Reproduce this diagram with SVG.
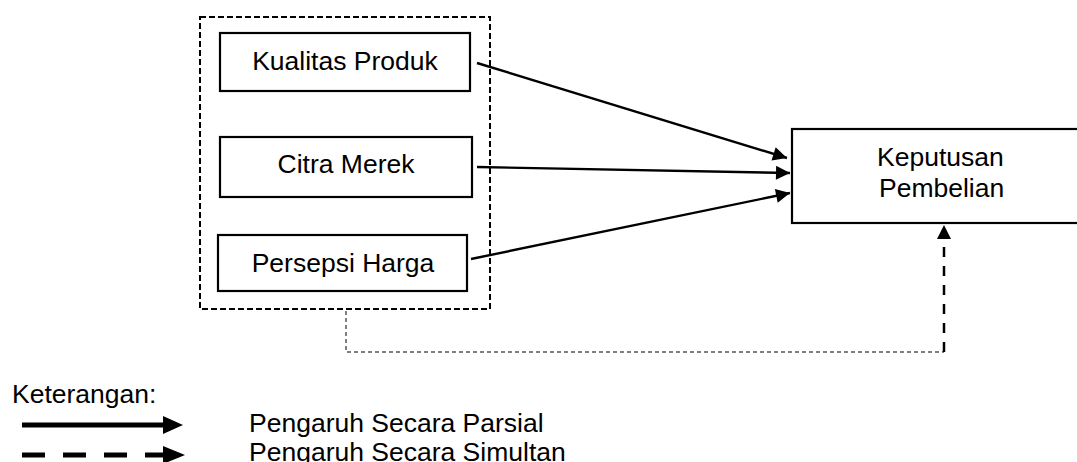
<svg xmlns="http://www.w3.org/2000/svg" width="1077" height="462" viewBox="0 0 1077 462">
  <style>
    .box { fill: #fff; stroke: #000; stroke-width: 2.2; }
    .lbl { font-family: "Liberation Sans", Arial, sans-serif; font-size: 26.5px; fill: #000; }
    .mid { text-anchor: middle; }
    .solid { stroke: #000; stroke-width: 2.4; fill: none; }
  </style>
  <defs>
    <marker id="ah" viewBox="0 0 10 10" refX="10" refY="5" markerWidth="17" markerHeight="14" markerUnits="userSpaceOnUse" orient="auto">
      <path d="M0,0 L10,5 L0,10 Z" fill="#000"/>
    </marker>
  </defs>
  <rect width="1077" height="462" fill="#fff"/>

  <g id="group-independent">
    <rect x="200" y="17" width="290" height="292" fill="none" stroke="#000" stroke-width="2" stroke-dasharray="6,3"/>
  </g>
  <g id="node-kualitas">
    <rect class="box" x="220" y="33" width="250" height="58"/>
    <text class="lbl mid" x="345" y="70">Kualitas Produk</text>
  </g>
  <g id="node-citra">
    <rect class="box" x="220" y="137" width="252" height="60"/>
    <text class="lbl mid" x="346" y="173">Citra Merek</text>
  </g>
  <g id="node-harga">
    <rect class="box" x="218" y="235" width="249" height="56"/>
    <text class="lbl mid" x="343" y="272">Persepsi Harga</text>
  </g>
  <g id="node-keputusan">
    <rect class="box" x="792" y="129" width="296" height="94"/>
    <text class="lbl" x="877" y="166">Keputusan</text>
    <text class="lbl" x="879" y="197">Pembelian</text>
  </g>

  <g id="connectors">
    <line class="solid" x1="477" y1="63" x2="787" y2="158" marker-end="url(#ah)"/>
    <line class="solid" x1="477" y1="167" x2="790" y2="173" marker-end="url(#ah)"/>
    <line class="solid" x1="471" y1="259" x2="790" y2="193" marker-end="url(#ah)"/>
    <polyline points="346,311 346,352 944,352" fill="none" stroke="#000" stroke-width="1" stroke-dasharray="4,3"/>
    <line x1="944" y1="352" x2="944" y2="238" stroke="#000" stroke-width="2.5" stroke-dasharray="10,9"/>
    <path d="M944,225 L951,239 L937,239 Z" fill="#000"/>
  </g>

  <g id="legend">
    <text class="lbl" x="12" y="403">Keterangan:</text>
    <line x1="22" y1="425" x2="165" y2="425" stroke="#000" stroke-width="5"/>
    <path d="M163,416 L183,425 L163,434 Z" fill="#000"/>
    <line x1="22" y1="455" x2="165" y2="455" stroke="#000" stroke-width="5" stroke-dasharray="23,18"/>
    <path d="M163,446 L185,455 L163,464 Z" fill="#000"/>
    <text class="lbl" x="249" y="432">Pengaruh Secara Parsial</text>
    <text class="lbl" x="249" y="461">Pengaruh Secara Simultan</text>
  </g>
</svg>
